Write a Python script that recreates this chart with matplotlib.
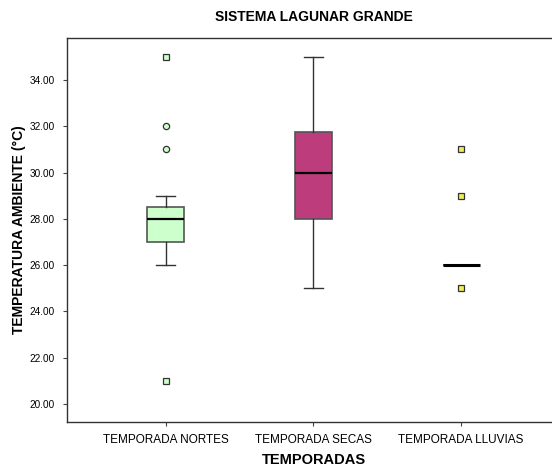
import matplotlib
matplotlib.use("Agg")
import matplotlib.pyplot as plt

plt.rcParams['font.family'] = ['Liberation Sans', 'DejaVu Sans']

# ---- data ----
categories = ['TEMPORADA NORTES', 'TEMPORADA SECAS', 'TEMPORADA LLUVIAS']
q1      = [27.0, 28.0, 26.0]
medians = [28.0, 30.0, 26.0]
q3      = [28.5, 31.75, 26.0]
whis_lo = [26.0, 25.0, 26.0]
whis_hi = [29.0, 35.0, 26.0]
outliers = [[32.0, 31.0], [], []]          # circles
extremes = [[35.0, 21.0], [], [31.0, 29.0, 25.0]]  # squares
box_colors = ['#CCFFCC', '#BC3C7C', '#EEEE55']
yticks = [20, 22, 24, 26, 28, 30, 32, 34]

fig = plt.figure(figsize=(5.52, 4.68), dpi=100)
ax = fig.add_axes([0.1214, 0.0983, 0.893, 0.8205])

stats = []
for i, name in enumerate(categories):
    stats.append(dict(label=name, q1=q1[i], med=medians[i], q3=q3[i],
                      whislo=whis_lo[i], whishi=whis_hi[i], fliers=[]))

pos = [1, 2, 3]
bp = ax.bxp(stats, positions=pos, widths=0.25, patch_artist=True,
            showfliers=False,
            boxprops=dict(edgecolor='#555555', linewidth=1.2),
            medianprops=dict(color='black', linewidth=1.6),
            whiskerprops=dict(color='#333333', linewidth=1.0),
            capprops=dict(color='#333333', linewidth=1.0),
            capwidths=0.13)
for patch, c in zip(bp['boxes'], box_colors):
    patch.set_facecolor(c)
# lluvias median drawn as a wider line like the collapsed box
bp['medians'][2].set_linewidth(2.2)

for i in range(3):
    if outliers[i]:
        ax.plot([pos[i]] * len(outliers[i]), outliers[i], 'o', ms=4.5,
                mfc=box_colors[i], mec='#333333', mew=0.9)
    if extremes[i]:
        ax.plot([pos[i]] * len(extremes[i]), extremes[i], 's', ms=4.5,
                mfc=box_colors[i], mec='#333333', mew=0.9)

ax.set_xlim(0.33, 3.67)
ax.set_ylim(19.22, 35.82)
ax.set_yticks(yticks)
ax.set_yticklabels(['%.2f' % v for v in yticks], fontsize=7.2)
ax.set_xticks(pos)
ax.set_xticklabels(categories, fontsize=8.5)
ax.tick_params(direction='out', length=3, color='#444444', pad=6)
for s in ax.spines.values():
    s.set_color('#333333')
    s.set_linewidth(1.0)

ax.set_xlabel('TEMPORADAS', fontsize=10.5, fontweight='bold', labelpad=5)
ax.set_ylabel('TEMPERATURA AMBIENTE (°C)', fontsize=10, fontweight='bold', labelpad=2)
ax.set_title('SISTEMA LAGUNAR GRANDE', fontsize=10, fontweight='bold', pad=12)

fig.savefig('out.png', dpi=100)
